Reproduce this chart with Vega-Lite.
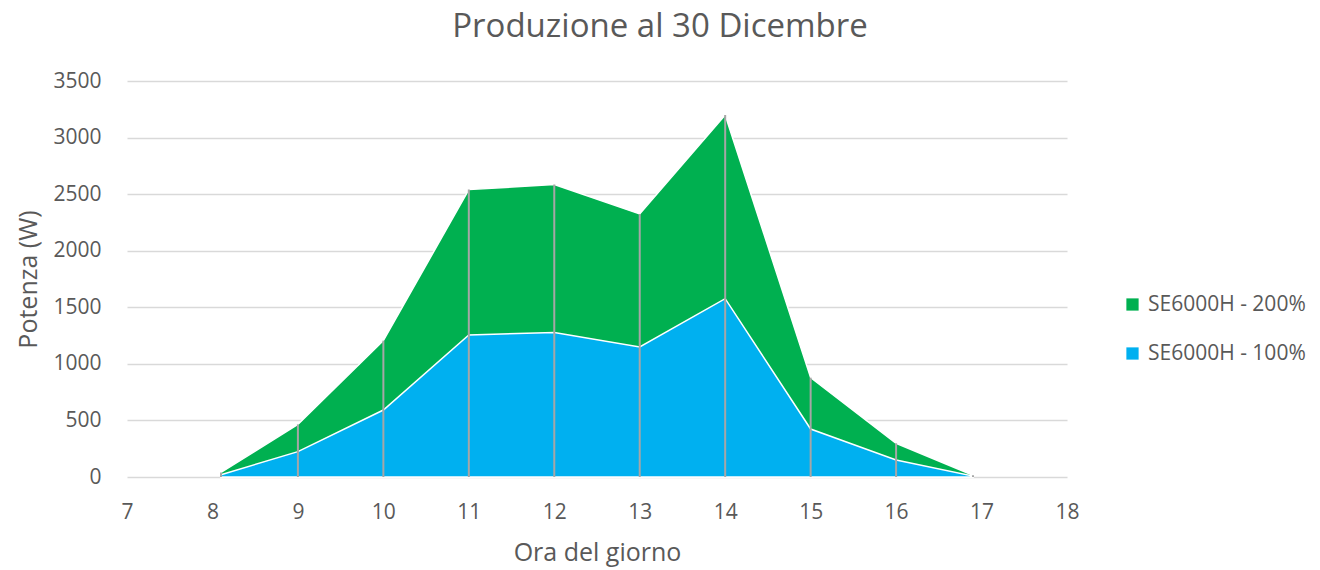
{
  "$schema": "https://vega.github.io/schema/vega-lite/v6.json",
  "width": 940,
  "height": 396,
  "autosize": {"type": "none"},
  "padding": {"left": 127, "top": 81, "right": 253, "bottom": 93},
  "background": "white",
  "title": {
    "text": "Produzione al 30 Dicembre",
    "font": "Open Sans",
    "fontSize": 33,
    "fontWeight": "normal",
    "color": "#595959",
    "anchor": "middle",
    "dx": 63,
    "offset": 26
  },
  "config": {
    "view": {"stroke": null},
    "font": "Open Sans",
    "axis": {
      "labelFont": "Open Sans",
      "titleFont": "Open Sans",
      "labelColor": "#595959",
      "titleColor": "#595959",
      "labelFontSize": 21,
      "titleFontSize": 25,
      "titleFontWeight": "normal",
      "ticks": false,
      "domain": false
    }
  },
  "data": {
    "values": [
      {"ora": 8.1, "serie": "SE6000H - 200%", "potenza": 40},
      {"ora": 9, "serie": "SE6000H - 200%", "potenza": 465},
      {"ora": 10, "serie": "SE6000H - 200%", "potenza": 1205},
      {"ora": 11, "serie": "SE6000H - 200%", "potenza": 2540},
      {"ora": 12, "serie": "SE6000H - 200%", "potenza": 2585},
      {"ora": 13, "serie": "SE6000H - 200%", "potenza": 2325},
      {"ora": 14, "serie": "SE6000H - 200%", "potenza": 3200},
      {"ora": 15, "serie": "SE6000H - 200%", "potenza": 878},
      {"ora": 16, "serie": "SE6000H - 200%", "potenza": 298},
      {"ora": 16.9, "serie": "SE6000H - 200%", "potenza": 15},
      {"ora": 8.1, "serie": "SE6000H - 100%", "potenza": 20},
      {"ora": 9, "serie": "SE6000H - 100%", "potenza": 224},
      {"ora": 10, "serie": "SE6000H - 100%", "potenza": 592},
      {"ora": 11, "serie": "SE6000H - 100%", "potenza": 1255},
      {"ora": 12, "serie": "SE6000H - 100%", "potenza": 1278},
      {"ora": 13, "serie": "SE6000H - 100%", "potenza": 1149},
      {"ora": 14, "serie": "SE6000H - 100%", "potenza": 1576},
      {"ora": 15, "serie": "SE6000H - 100%", "potenza": 424},
      {"ora": 16, "serie": "SE6000H - 100%", "potenza": 150},
      {"ora": 16.9, "serie": "SE6000H - 100%", "potenza": 8}
    ]
  },
  "encoding": {
    "x": {
      "field": "ora",
      "type": "quantitative",
      "title": "Ora del giorno",
      "scale": {"domain": [7, 18], "nice": false, "zero": false},
      "axis": {"values": [7, 8, 9, 10, 11, 12, 13, 14, 15, 16, 17, 18], "format": "d", "grid": false, "labelPadding": 24, "titlePadding": 18, "labelFlush": false}
    },
    "y": {
      "field": "potenza",
      "type": "quantitative",
      "title": "Potenza (W)",
      "scale": {"domain": [0, 3500], "nice": false},
      "axis": {"values": [0, 500, 1000, 1500, 2000, 2500, 3000, 3500], "format": "d", "grid": true, "gridColor": "#d9d9d9", "gridWidth": 1.5, "labelPadding": 26, "titlePadding": 11}
    }
  },
  "layer": [
    {
      "transform": [{"filter": "datum.serie === 'SE6000H - 200%'"}],
      "mark": {"type": "area", "stroke": "white", "strokeWidth": 1.5, "opacity": 1},
      "encoding": {
        "color": {
          "field": "serie",
          "type": "nominal",
          "scale": {"domain": ["SE6000H - 200%", "SE6000H - 100%"], "range": ["#00B050", "#00B0F0"]},
          "legend": {
            "title": null,
            "orient": "none",
            "legendX": 995,
            "legendY": 213,
            "symbolType": "square",
            "symbolSize": 150,
            "symbolStrokeWidth": 0,
            "labelFont": "Open Sans",
            "labelFontSize": 21,
            "labelColor": "#595959",
            "rowPadding": 27,
            "labelOffset": 5
          }
        }
      }
    },
    {
      "transform": [{"filter": "datum.serie === 'SE6000H - 100%'"}],
      "mark": {"type": "area", "stroke": "white", "strokeWidth": 1.5, "opacity": 1},
      "encoding": {
        "color": {"field": "serie", "type": "nominal"}
      }
    },
    {
      "transform": [{"filter": "datum.serie === 'SE6000H - 200%'"}],
      "mark": {"type": "rule", "color": "#A6A6A6", "strokeWidth": 2},
      "encoding": {
        "y2": {"datum": 0}
      }
    }
  ]
}
